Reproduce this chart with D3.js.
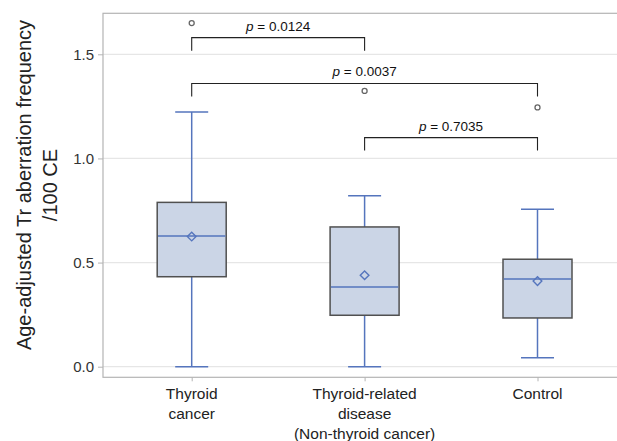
<!DOCTYPE html>
<html><head><meta charset="utf-8">
<script src="https://cdn.jsdelivr.net/npm/d3@7"></script>
<style>body{margin:0;background:#fff}svg{display:block}</style>
</head><body><svg id="c" width="617" height="441"></svg>
<script>
const categories = ["Thyroid cancer", "Thyroid-related disease (Non-thyroid cancer)", "Control"];
const categoryLabels = [["Thyroid","cancer"],["Thyroid-related","disease","(Non-thyroid cancer)"],["Control"]];
const whiskerLow  = [0.000, 0.000, 0.043];
const q1          = [0.432, 0.247, 0.234];
const median      = [0.627, 0.383, 0.421];
const q3          = [0.789, 0.671, 0.516];
const whiskerHigh = [1.223, 0.821, 0.756];
const means       = [0.625, 0.439, 0.411];
const outliers    = [[1.650],[1.324],[1.245]];
const yTicks = [0.0, 0.5, 1.0, 1.5];
const comparisons = [
  {a:0, b:1, y:1.58, label:"0.0124"},
  {a:0, b:2, y:1.36, label:"0.0037"},
  {a:1, b:2, y:1.10, label:"0.7035"}
];

const svg = d3.select("#c");
const FONT = "Liberation Sans, Arial, sans-serif";
const L = 103, T = 13.3, B = 377.3, R = 660;
const x = d3.scalePoint().domain(categories).range([191.7, 537.5]);
const y = d3.scaleLinear().domain([0, 1.5]).range([366.7, 54.3]);

// gridlines
svg.append("g").selectAll("line").data(yTicks).join("line")
  .attr("x1", L).attr("x2", R).attr("y1", d => y(d)).attr("y2", d => y(d))
  .attr("stroke", "#e6e6e6").attr("stroke-width", 1.2);

// frame
svg.append("rect").attr("x", L).attr("y", T).attr("width", R - L).attr("height", B - T)
  .attr("fill", "none").attr("stroke", "#b4b4b4").attr("stroke-width", 1.2);

// y axis
const ya = svg.append("g").attr("transform", `translate(${L},0)`)
  .call(d3.axisLeft(y).tickValues(yTicks).tickFormat(d3.format(".1f")).tickSize(5).tickPadding(4));
ya.select(".domain").remove();
ya.selectAll("line").attr("stroke", "#b4b4b4");
ya.selectAll("text").attr("font-family", FONT).attr("font-size", 15).attr("fill", "#333");

// x axis
const xa = svg.append("g").attr("transform", `translate(0,${B})`)
  .call(d3.axisBottom(x).tickSize(4).tickFormat(""));
xa.select(".domain").remove();
xa.selectAll("line").attr("stroke", "#b4b4b4");
categories.forEach((c, i) => {
  const t = svg.append("text").attr("text-anchor", "middle")
    .attr("font-family", FONT).attr("font-size", 15.5).attr("fill", "#222");
  categoryLabels[i].forEach((ln, j) => {
    t.append("tspan").attr("x", x(c)).attr("y", 398.5 + j * 20).text(ln);
  });
});

// y label
const yl = svg.append("text").attr("transform", "rotate(-90)")
  .attr("text-anchor", "middle").attr("font-family", FONT)
  .attr("font-size", 20).attr("fill", "#222");
yl.append("tspan").attr("x", -185).attr("y", 31).text("Age-adjusted Tr aberration frequency");
yl.append("tspan").attr("x", -185).attr("y", 57).text("/100 CE");

// boxes
const bw = 69, cw = 33, blue = "#5575bd";
categories.forEach((c, i) => {
  const cx = x(c);
  const g = svg.append("g");
  g.append("line").attr("x1", cx).attr("x2", cx).attr("y1", y(whiskerLow[i])).attr("y2", y(q1[i])).attr("stroke", blue).attr("stroke-width", 1.5);
  g.append("line").attr("x1", cx).attr("x2", cx).attr("y1", y(q3[i])).attr("y2", y(whiskerHigh[i])).attr("stroke", blue).attr("stroke-width", 1.5);
  [whiskerLow[i], whiskerHigh[i]].forEach(v => g.append("line")
    .attr("x1", cx - cw/2).attr("x2", cx + cw/2).attr("y1", y(v)).attr("y2", y(v))
    .attr("stroke", blue).attr("stroke-width", 1.5));
  g.append("rect").attr("x", cx - bw/2).attr("y", y(q3[i])).attr("width", bw).attr("height", y(q1[i]) - y(q3[i]))
    .attr("fill", "#cbd5e6").attr("stroke", "#505050").attr("stroke-width", 1.5);
  g.append("line").attr("x1", cx - bw/2 + 0.8).attr("x2", cx + bw/2 - 0.8).attr("y1", y(median[i])).attr("y2", y(median[i]))
    .attr("stroke", blue).attr("stroke-width", 1.5);
  g.append("path").attr("d", d3.symbol(d3.symbolDiamond2, 48)())
    .attr("transform", `translate(${cx},${y(means[i])})`)
    .attr("fill", "none").attr("stroke", blue).attr("stroke-width", 1.4);
  outliers[i].forEach(v => g.append("circle").attr("cx", cx).attr("cy", y(v)).attr("r", 2.5)
    .attr("fill", "none").attr("stroke", "#666").attr("stroke-width", 1.3));
});

// significance brackets
comparisons.forEach(cmp => {
  const xa1 = x(categories[cmp.a]), xb1 = x(categories[cmp.b]);
  const yy = y(cmp.y);
  svg.append("path").attr("d", `M${xa1},${yy + 13}V${yy}H${xb1}V${yy + 13}`)
    .attr("fill", "none").attr("stroke", "#222").attr("stroke-width", 1.1);
  const t = svg.append("text").attr("x", (xa1 + xb1) / 2).attr("y", yy - 7)
    .attr("text-anchor", "middle").attr("font-family", FONT)
    .attr("font-size", 13.5).attr("fill", "#111");
  t.append("tspan").attr("font-style", "italic").text("p");
  t.append("tspan").text(" = " + cmp.label);
});
</script></body></html>
